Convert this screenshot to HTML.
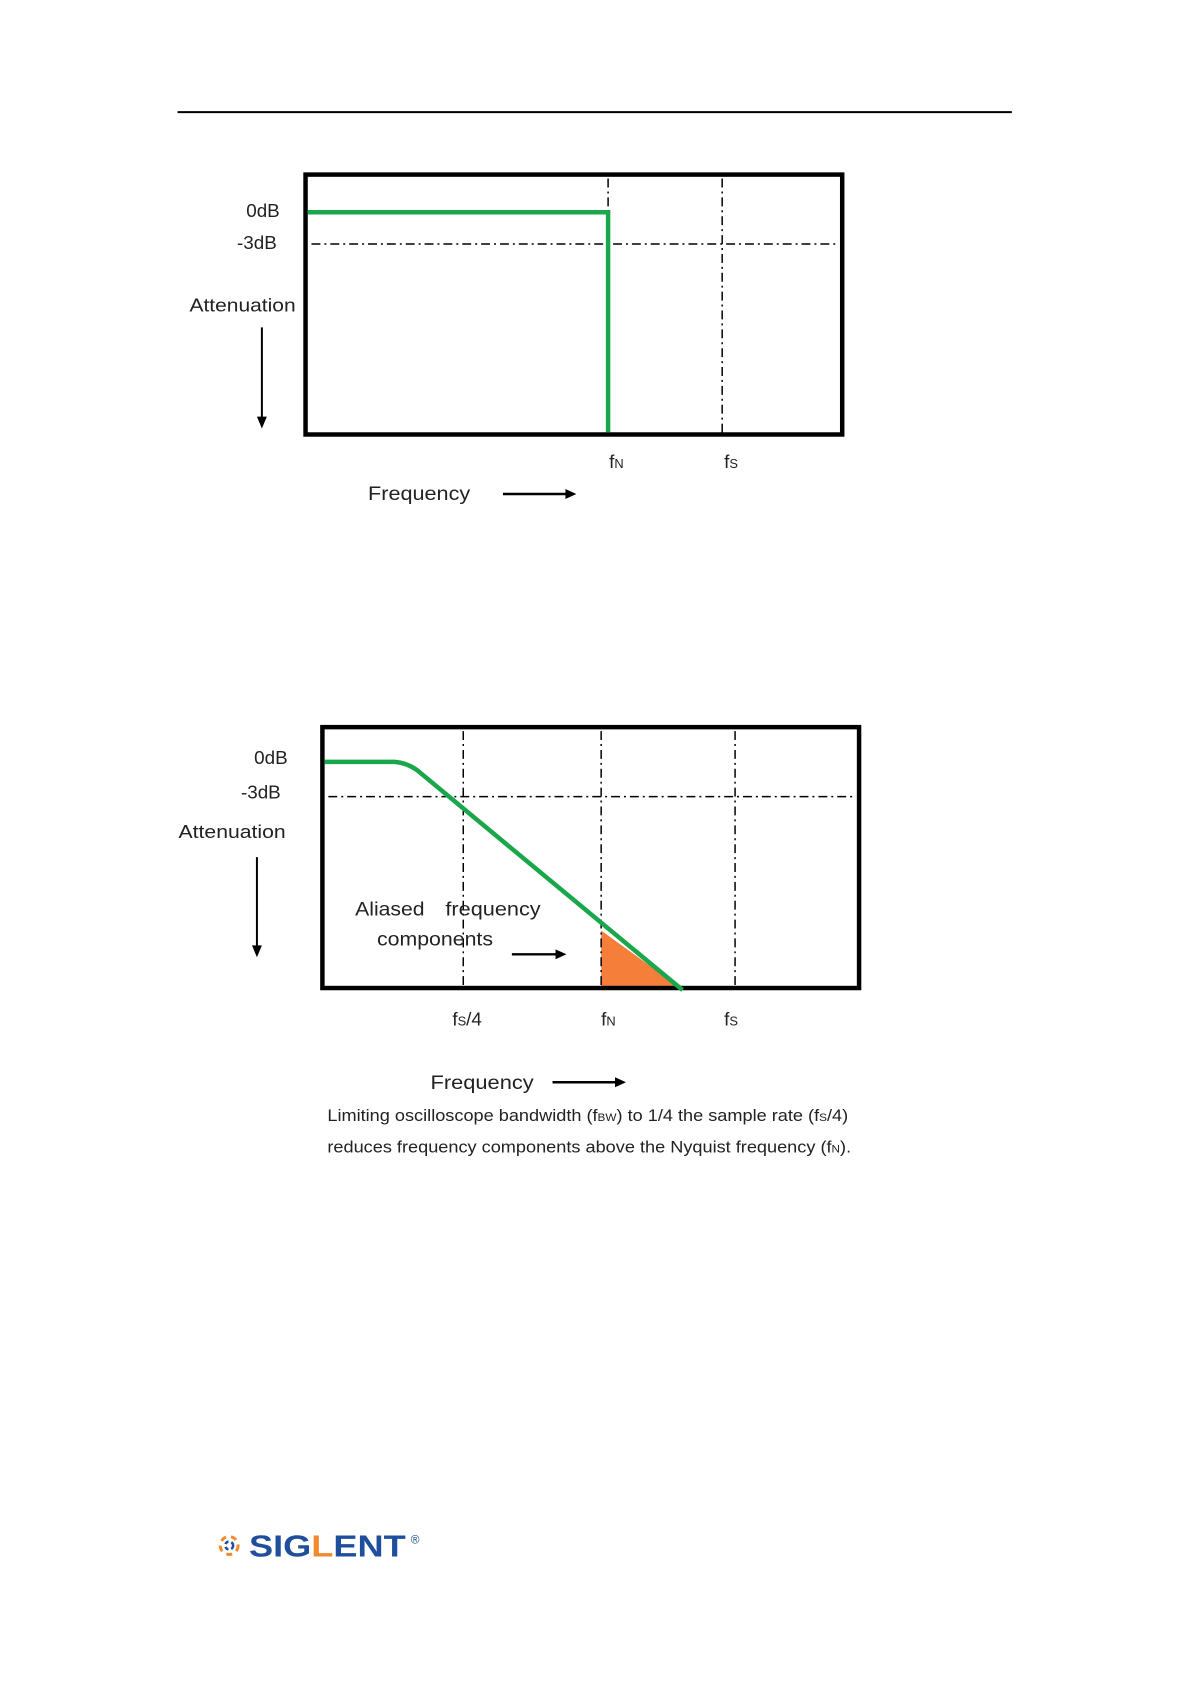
<!DOCTYPE html>
<html><head><meta charset="utf-8"><style>
html,body{margin:0;padding:0;background:#fff}
svg{display:block}
text{font-family:"Liberation Sans",sans-serif;fill:#222}
</style></head><body>
<svg width="1191" height="1684" viewBox="0 0 1191 1684">
<g transform="scale(0.992)">
<line x1="179" y1="113" x2="1020" y2="113" stroke="#000" stroke-width="2"/>
<!-- chart 1 -->
<rect x="308" y="176" width="541" height="262" fill="none" stroke="#000" stroke-width="4.5"/>
<line x1="613" y1="180" x2="613" y2="436" stroke="#000" stroke-width="1.5" stroke-dasharray="9,4,2,4"/>
<line x1="728" y1="180" x2="728" y2="436" stroke="#000" stroke-width="1.5" stroke-dasharray="9,4,2,4"/>
<line x1="314" y1="246" x2="845" y2="246" stroke="#000" stroke-width="1.5" stroke-dasharray="9,4,2,4"/>
<polyline points="310,214 613,214 613,436" fill="none" stroke="#1aa64a" stroke-width="4.5"/>
<text x="282" y="219" font-size="19" text-anchor="end">0dB</text>
<text x="279" y="251" font-size="19" text-anchor="end">-3dB</text>
<text x="191" y="314" font-size="19" textLength="107" lengthAdjust="spacingAndGlyphs">Attenuation</text>
<line x1="264" y1="330" x2="264" y2="422" stroke="#000" stroke-width="2"/>
<polygon points="259,420 269,420 264,432" fill="#000"/>
<text x="614" y="472" font-size="19">f<tspan font-size="13">N</tspan></text>
<text x="730" y="472" font-size="19">f<tspan font-size="13">S</tspan></text>
<text x="371" y="504" font-size="20" textLength="103" lengthAdjust="spacingAndGlyphs">Frequency</text>
<line x1="507" y1="498" x2="572" y2="498" stroke="#000" stroke-width="2.5"/>
<polygon points="570,493 581,498 570,503" fill="#000"/>
<!-- chart 2 -->
<polygon points="606,938 606,996 686,996" fill="#f47e3a"/>
<rect x="325" y="733" width="541" height="263" fill="none" stroke="#000" stroke-width="4.5"/>
<line x1="467" y1="737" x2="467" y2="994" stroke="#000" stroke-width="1.5" stroke-dasharray="9,4,2,4"/>
<line x1="606" y1="737" x2="606" y2="994" stroke="#000" stroke-width="1.5" stroke-dasharray="9,4,2,4"/>
<line x1="741" y1="737" x2="741" y2="994" stroke="#000" stroke-width="1.5" stroke-dasharray="9,4,2,4"/>
<line x1="331" y1="803" x2="862" y2="803" stroke="#000" stroke-width="1.5" stroke-dasharray="9,4,2,4"/>
<path d="M327,768 L398,768 Q410,769 420,776 L688,998" fill="none" stroke="#1aa64a" stroke-width="4.5"/>
<text x="290" y="770" font-size="19" text-anchor="end">0dB</text>
<text x="283" y="805" font-size="19" text-anchor="end">-3dB</text>
<text x="180" y="845" font-size="19" textLength="108" lengthAdjust="spacingAndGlyphs">Attenuation</text>
<line x1="259" y1="864" x2="259" y2="955" stroke="#000" stroke-width="2"/>
<polygon points="254,953 264,953 259,965" fill="#000"/>
<text x="358" y="923" font-size="20" textLength="70" lengthAdjust="spacingAndGlyphs">Aliased</text>
<text x="449" y="923" font-size="20" textLength="96" lengthAdjust="spacingAndGlyphs">frequency</text>
<text x="380" y="953" font-size="20" textLength="117" lengthAdjust="spacingAndGlyphs">components</text>
<line x1="516" y1="962" x2="562" y2="962" stroke="#000" stroke-width="2.5"/>
<polygon points="560,957 571,962 560,967" fill="#000"/>
<text x="456" y="1034" font-size="19">f<tspan font-size="13">S</tspan>/4</text>
<text x="606" y="1034" font-size="19">f<tspan font-size="13">N</tspan></text>
<text x="730" y="1034" font-size="19">f<tspan font-size="13">S</tspan></text>
<text x="434" y="1098" font-size="20" textLength="104" lengthAdjust="spacingAndGlyphs">Frequency</text>
<line x1="557" y1="1091" x2="622" y2="1091" stroke="#000" stroke-width="2.5"/>
<polygon points="620,1086 631,1091 620,1096" fill="#000"/>
<text x="330" y="1130" font-size="17" textLength="525" lengthAdjust="spacingAndGlyphs">Limiting oscilloscope bandwidth (f<tspan font-size="11">BW</tspan>) to 1/4 the sample rate (f<tspan font-size="11">S</tspan>/4)</text>
<text x="330" y="1162" font-size="17" textLength="528" lengthAdjust="spacingAndGlyphs">reduces frequency components above the Nyquist frequency (f<tspan font-size="11">N</tspan>).</text>
<!-- logo -->
<g transform="translate(231,1558)">
<circle cx="0" cy="0" r="9" fill="none" stroke="#f08a2c" stroke-width="3" stroke-dasharray="6,5"/>
<circle cx="0" cy="0" r="4" fill="none" stroke="#1f4e9c" stroke-width="2.5" stroke-dasharray="4,3"/>
</g>
<text x="251" y="1569" font-size="31" font-weight="bold" style="fill:#1f4e9c" textLength="158" lengthAdjust="spacingAndGlyphs">SIG<tspan style="fill:#f08a2c">L</tspan>ENT</text>
<text x="414" y="1556" font-size="12" style="fill:#1f4e9c">®</text>
</g>
</svg>
</body></html>
